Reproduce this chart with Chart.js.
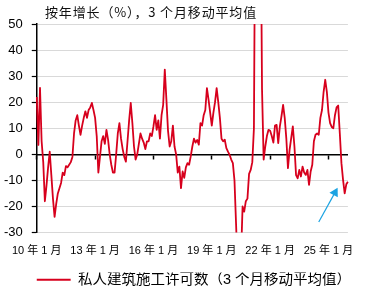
<!DOCTYPE html>
<html><head><meta charset="utf-8">
<script src="https://cdn.jsdelivr.net/npm/chart.js@4.4.1/dist/chart.umd.min.js"></script>
<style>
html,body{margin:0;padding:0;background:#fff;}
#wrap{position:relative;width:366px;height:291px;overflow:hidden;}
#title{position:absolute;left:45px;top:3px;font:13px 'Noto Sans CJK SC',sans-serif;letter-spacing:0.85px;color:#111;white-space:nowrap;line-height:18px;}
canvas{position:absolute;left:0;top:0;}
</style></head><body>
<div id="wrap"><canvas id="c" width="366" height="291"></canvas><div id="title">按年增长（%），3 个月移动平均值</div></div>
<script>
// Monthly categories: Jan 2010 .. Jan 2026
const months = [];
for (let k = 0; k < 193; k++) {
  const y = 2010 + Math.floor(k / 12), m = k % 12 + 1;
  months.push(y + '-' + String(m).padStart(2, '0'));
}
const tickLabels = ['10 年 1 月', '13 年 1 月', '16 年 1 月', '19 年 1 月', '22 年 1 月', '25 年 1 月'];
const seriesName = '私人建筑施工许可数（3 个月移动平均值）';
// YoY %, 3-month moving average (values beyond the axis range are estimates)
const permits3mma = [
  22, 3.6, 25.5, 5, -3, -18, -12, -5, 1, -8, -17, -24,
  -19, -15, -13, -11, -7, -8, -4.5, -5, -4, -3, -1, 8,
  13, 15, 11, 7.5, 11, 14, 16.5, 14, 17, 18, 19.7, 17,
  14, 7, -7, -1, 5, 7, 4, 9.4, 5.6, 0, -4, -7,
  -7, 0, 8, 12, 6, 2, -1, -2.8, 5, 13, 19.7, 12,
  3, -2, 0, 4, 8, 6, 4.5, 2, 5, 5, 8, 7,
  10.7, 15, 9.4, 13, 6, 15, 19, 32.5, 21, 9, 3, 5,
  11, 3, 0, -7, -4.7, -13, -6.6, -9, -5, -3.4, -4, -0.8,
  3, 6, 4.5, 5.5, 3.7, 12, 11, 15, 17, 25.4, 21, 16,
  11, 16, 20, 25.4, 20, 14, 6, 5, 5.6, 2.4, 1, -0.2,
  -2, -3.4, -10, -27, -45, -48, -40, -20, -22, -18, -17, -7.5,
  -6, -3, 10, 120, 150, 130, 110, 25, -2, 3, 7, 9.4,
  9, 7, 4.5, 11, 11.3, 4.3, 10.7, 14.6, 19, 14, 6, -5.3,
  1.7, 6.2, 10.7, 3, -8, -9.2, -6, -8.5, -4.7, -7, -7.9, -6,
  -11.7, -6.6, -4, 5, 7.5, 8, 7.5, 14, 17, 24, 28.6, 24,
  16, 12, 10.5, 10, 15, 18, 18.7, 8, -3.4, -9.8, -15, -11.5,
  -10.5
];
const yTicks = { min: -30, max: 50, step: 10 };
// annotation arrow (start, end)
const arrowX = ['2024-07', '2025-05'];
const arrowY = [-26, -14.7];

const FONT = "'Liberation Sans','Noto Sans CJK SC',sans-serif";

new Chart(document.getElementById('c'), {
  type: 'line',
  data: {
    labels: months,
    datasets: [
      {
        label: seriesName,
        data: permits3mma,
        borderColor: '#d7001d',
        backgroundColor: '#d7001d',
        borderWidth: 1.8,
        borderJoinStyle: 'round',
        pointRadius: 0,
        tension: 0,
        xAxisID: 'x', yAxisID: 'y'
      },
      {
        label: 'arrow',
        data: arrowX.map((x, i) => ({ x: x, y: arrowY[i] })),
        borderColor: '#1ba3e2',
        backgroundColor: '#1ba3e2',
        borderWidth: 1.2,
        pointRadius: [0, 5.5],
        pointStyle: 'triangle',
        rotation: 29,
        pointBorderWidth: 0,
        pointBackgroundColor: '#1ba3e2',
        xAxisID: 'x', yAxisID: 'y'
      }
    ]
  },
  options: {
    responsive: false,
    animation: false,
    devicePixelRatio: 1,
    layout: { padding: { top: 24, left: 0, right: 14, bottom: -6 } },
    plugins: {
      title: { display: false },
      tooltip: { enabled: false },
      legend: {
        display: true,
        position: 'bottom',
        fullSize: false,
        labels: {
          usePointStyle: true,
          pointStyle: 'line',
          pointStyleWidth: 37,
          font: { size: 14.5, family: FONT },
          color: '#000',
          padding: 0,
          filter: (item) => item.datasetIndex === 0
        }
      }
    },
    scales: {
      x: {
        type: 'category',
        offset: false,
        grid: { display: false, drawTicks: false },
        border: { display: false },
        ticks: {
          autoSkip: false, maxRotation: 0, minRotation: 0, padding: 12,
          color: '#000', font: { size: 11, family: FONT },
          callback: (v, i) => (i % 36 === 0 ? tickLabels[i / 36] : null)
        },
        afterFit: (s) => { s.height = 40; }
      },
      x0: {
        type: 'category',
        labels: months,
        offset: false,
        position: { y: 0 },
        grid: {
          display: true, drawOnChartArea: false, drawTicks: true, tickLength: 4, tickWidth: 1.5,
          tickColor: (c) => (c.index % 36 === 0 ? '#000' : 'rgba(0,0,0,0)')
        },
        border: { display: true, color: '#000', width: 1.5 },
        ticks: { display: false, autoSkip: false }
      },
      y: {
        min: yTicks.min, max: yTicks.max,
        grid: { color: '#d9d9d9', lineWidth: 1, drawTicks: true, tickLength: 5, tickColor: '#000', tickWidth: 1.2 },
        border: { display: true, color: '#000', width: 1.5 },
        ticks: { stepSize: yTicks.step, padding: 9, color: '#000', font: { size: 13, family: FONT } },
        afterFit: (s) => { s.width = 35; }
      }
    }
  }
});
</script>
</body></html>
